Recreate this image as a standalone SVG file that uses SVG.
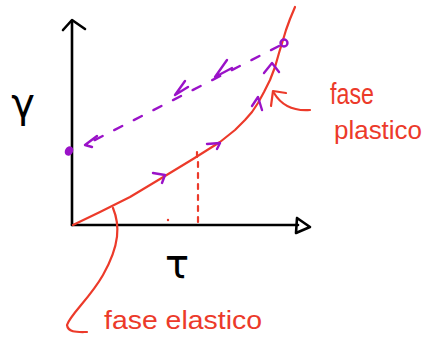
<svg xmlns="http://www.w3.org/2000/svg" width="424" height="347" viewBox="0 0 424 347">
<style>
.ax{fill:none;stroke:#000;stroke-width:2.6;stroke-linecap:round;stroke-linejoin:round}
.red{fill:none;stroke:#ec3a2a;stroke-width:2.2;stroke-linecap:round;stroke-linejoin:round}
.pur{fill:none;stroke:#9a12c8;stroke-width:2.4;stroke-linecap:round;stroke-linejoin:round}
.lbl{font-family:"DejaVu Sans",sans-serif;fill:#000}
.rt{font-family:"Liberation Sans",sans-serif;fill:#ec3a2a;font-size:26px}
</style>
<rect width="424" height="347" fill="#fff"/>
<g id="axes">
<line class="ax" x1="72" y1="21" x2="72" y2="225"/>
<polyline class="ax" points="63,30 72,20 85,29"/>
<line class="ax" x1="72" y1="225" x2="298" y2="225"/>
<polyline class="ax" points="297,218 310,227 296,233 297,218"/>
</g>
<g id="labels">
<text class="lbl" x="23" y="117" font-size="40" text-anchor="middle">γ</text>
<text class="lbl" x="177" y="278" font-size="40" text-anchor="middle">τ</text>
</g>
<g id="curve">
<polyline class="red" points="73,225 100,212 130,197 165,176 193,159 220,142 235,130 245,120 252,112 258,103 264,92 270,80 275,67 279,53 283,40 286,30 290,19 295,7"/>
<line class="red" x1="197" y1="152" x2="197" y2="157"/>
<line class="red" x1="198" y1="162" x2="198" y2="222" stroke-dasharray="5 6"/>
<circle cx="168" cy="220" r="1.2" fill="#ec3a2a"/>
</g>
<g id="points">
<ellipse cx="69" cy="151" rx="4" ry="5" fill="#9a12c8" transform="rotate(30 69 151)"/>
<circle class="pur" cx="284" cy="43" r="3.5"/>
</g>
<g id="connectors">
<line class="pur" x1="279" y1="46" x2="85" y2="145" stroke-dasharray="9 13"/>
<polyline class="pur" points="97,136 85,145 92,147"/>
<polyline class="pur" points="185,81 175,95 188,87"/>
<polyline class="pur" points="227,60 215,77 232,68"/>
<polyline class="pur" points="153,173 165,175 162,183"/>
<polyline class="pur" points="207,144 220,143 217,149"/>
<polyline class="pur" points="252,106 258,97 262,110"/>
<polyline class="pur" points="264,73 272,63 279,72"/>
<path class="red" d="M310,110 C297,111 283,108 274,93"/>
<polyline class="red" points="271,106 273,91 286,93"/>
<path class="red" d="M113,208 C120,225 120,245 103,275 C90,298 70,315 67,325 C68,333 78,332 87,332"/>
</g>
<g id="text-plastico">
<text class="rt" x="330" y="104" style="font-size:30px" textLength="44" lengthAdjust="spacingAndGlyphs">fase</text>
<text class="rt" x="334" y="139" textLength="88" lengthAdjust="spacingAndGlyphs">plastico</text>
</g>
<g id="text-elastico">
<text class="rt" x="104" y="329" textLength="158" lengthAdjust="spacingAndGlyphs">fase elastico</text>
</g>
</svg>
